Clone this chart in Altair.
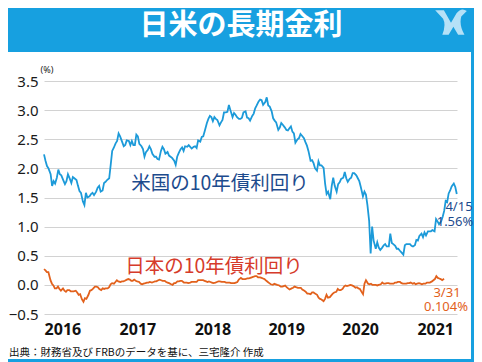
import altair as alt
import pandas as pd

# ---------------- data ----------------
# sample days within each month
SAMPLE_DAYS = [1, 8, 15, 22]

us_yield = [
    # 2016
    2.24, 2.13, 2.04, 2.00,  1.90, 1.70, 1.78, 1.74,  1.84, 1.98, 1.90, 1.88,
    1.79, 1.73, 1.78, 1.90,  1.82, 1.75, 1.85, 1.83,  1.80, 1.70, 1.61, 1.58,
    1.43, 1.37, 1.58, 1.50,  1.52, 1.56, 1.58, 1.54,  1.60, 1.67, 1.70, 1.60,
    1.62, 1.75, 1.77, 1.80,  1.83, 2.06, 2.30, 2.35,  2.43, 2.47, 2.60, 2.55,
    # 2017
    2.45, 2.38, 2.40, 2.48,  2.47, 2.40, 2.47, 2.40,  2.40, 2.58, 2.55, 2.42,
    2.38, 2.33, 2.20, 2.28,  2.32, 2.38, 2.33, 2.25,  2.20, 2.20, 2.16, 2.15,
    2.30, 2.37, 2.33, 2.25,  2.28, 2.22, 2.20, 2.18,  2.13, 2.06, 2.20, 2.26,
    2.33, 2.36, 2.30, 2.38,  2.37, 2.40, 2.37, 2.34,  2.37, 2.38, 2.35, 2.48,
    # 2018
    2.46, 2.54, 2.55, 2.64,  2.78, 2.85, 2.90, 2.88,  2.81, 2.88, 2.85, 2.83,
    2.74, 2.79, 2.83, 2.96,  2.96, 2.97, 3.09, 3.00,  2.88, 2.95, 2.92, 2.88,
    2.85, 2.85, 2.87, 2.96,  2.98, 2.87, 2.86, 2.82,  2.90, 2.94, 3.03, 3.08,
    3.15, 3.18, 3.17, 3.09,  3.14, 3.22, 3.08, 3.06,  2.98, 2.86, 2.82, 2.79,
    # 2019
    2.66, 2.70, 2.78, 2.75,  2.70, 2.66, 2.65, 2.69,  2.72, 2.63, 2.60, 2.44,
    2.50, 2.52, 2.59, 2.56,  2.52, 2.45, 2.39, 2.30,  2.13, 2.14, 2.09, 2.00,
    1.96, 2.12, 2.05, 2.05,  2.01, 1.74, 1.56, 1.60,  1.47, 1.70, 1.84, 1.70,
    1.60, 1.73, 1.76, 1.82,  1.84, 1.94, 1.83, 1.77,  1.82, 1.84, 1.92, 1.92,
    # 2020
    1.88, 1.83, 1.78, 1.68,  1.52, 1.60, 1.55, 1.37,  1.10, 0.54, 1.00, 0.76,
    0.62, 0.73, 0.64, 0.60,  0.64, 0.68, 0.70, 0.66,  0.66, 0.88, 0.72, 0.70,
    0.67, 0.62, 0.62, 0.59,  0.55, 0.52, 0.68, 0.70,  0.70, 0.70, 0.67, 0.66,
    0.68, 0.77, 0.76, 0.84,  0.88, 0.82, 0.90, 0.85,  0.92, 0.92, 0.92, 0.94,
    # 2021
    0.92, 1.13, 1.09, 1.04,  1.09, 1.17, 1.27, 1.44,  1.42, 1.57, 1.62, 1.69,
    1.74, 1.68, 1.56,
]

jp_yield = [
    # 2016
    0.27, 0.25, 0.22, 0.22,  0.08, 0.02, -0.01, -0.06,  -0.06, -0.03, -0.07, -0.10,
    -0.06, -0.10, -0.12, -0.09,  -0.09, -0.11, -0.11, -0.11,  -0.10, -0.13, -0.17, -0.16,
    -0.25, -0.29, -0.23, -0.24,  -0.17, -0.10, -0.09, -0.07,  -0.03, -0.03, -0.04, -0.07,
    -0.09, -0.06, -0.07, -0.06,  -0.06, -0.04, 0.01, 0.03,  0.02, 0.05, 0.08, 0.06,
    # 2017
    0.05, 0.06, 0.06, 0.07,  0.09, 0.10, 0.09, 0.07,  0.07, 0.09, 0.07, 0.06,
    0.05, 0.02, 0.01, 0.02,  0.03, 0.04, 0.04, 0.05,  0.04, 0.05, 0.06, 0.06,
    0.08, 0.09, 0.08, 0.07,  0.07, 0.05, 0.04, 0.03,  0.01, 0.00, 0.03, 0.03,
    0.06, 0.06, 0.07, 0.07,  0.04, 0.04, 0.04, 0.03,  0.04, 0.05, 0.05, 0.05,
    # 2018
    0.05, 0.08, 0.08, 0.08,  0.08, 0.07, 0.06, 0.05,  0.06, 0.05, 0.04, 0.03,
    0.04, 0.05, 0.06, 0.06,  0.05, 0.05, 0.05, 0.04,  0.04, 0.04, 0.03, 0.03,
    0.03, 0.04, 0.05, 0.09,  0.12, 0.10, 0.10, 0.10,  0.11, 0.11, 0.12, 0.13,
    0.14, 0.15, 0.15, 0.13,  0.13, 0.12, 0.11, 0.10,  0.07, 0.05, 0.03, 0.01,
    # 2019
    0.00, 0.02, 0.01, 0.00,  -0.01, -0.03, -0.03, -0.02,  -0.01, -0.04, -0.06, -0.08,
    -0.06, -0.05, -0.03, -0.04,  -0.05, -0.05, -0.05, -0.08,  -0.10, -0.12, -0.15, -0.15,
    -0.16, -0.13, -0.13, -0.15,  -0.17, -0.22, -0.24, -0.25,  -0.28, -0.24, -0.17, -0.22,
    -0.21, -0.18, -0.15, -0.13,  -0.12, -0.07, -0.09, -0.09,  -0.07, -0.03, -0.01, -0.02,
    # 2020
    -0.01, 0.00, -0.01, -0.02,  -0.05, -0.04, -0.06, -0.07,  -0.12, -0.16, 0.02, 0.08,
    0.02, 0.01, 0.02, 0.00,  0.00, 0.00, -0.01, 0.00,  0.01, 0.04, 0.02, 0.02,
    0.03, 0.03, 0.02, 0.02,  0.02, 0.04, 0.04, 0.05,  0.05, 0.03, 0.02, 0.02,
    0.02, 0.03, 0.03, 0.04,  0.02, 0.03, 0.01, 0.02,  0.03, 0.02, 0.01, 0.02,
    # 2021
    0.02, 0.04, 0.04, 0.04,  0.06, 0.08, 0.10, 0.15,  0.12, 0.11, 0.10, 0.08,
]
jp_last_date = "2021-03-31"
jp_last_value = 0.104

y_ticks = [-0.5, 0.0, 0.5, 1.0, 1.5, 2.0, 2.5, 3.0, 3.5]
year_labels = ["2016", "2017", "2018", "2019", "2020", "2021"]
year_label_dates = ["2016-03-27", "2017-03-13", "2018-02-27", "2019-02-07", "2020-01-19", "2021-01-04"]

TITLE = "日米の長期金利"
US_LABEL = "米国の10年債利回り"
JP_LABEL = "日本の10年債利回り"
US_NOTE = ["4/15", "1.56%"]
JP_NOTE = ["3/31", "0.104%"]
SOURCE = "出典：財務省及び FRBのデータを基に、三宅隆介 作成"


def make_dates(n):
    out = []
    y, m = 2016, 1
    while len(out) < n:
        for d in SAMPLE_DAYS:
            if len(out) < n:
                out.append(f"{y}-{m:02d}-{d:02d}")
        m += 1
        if m > 12:
            m, y = 1, y + 1
    return out


us_df = pd.DataFrame({"date": make_dates(len(us_yield)), "value": us_yield})
jp_df = pd.DataFrame({"date": make_dates(len(jp_yield)) + [jp_last_date],
                      "value": jp_yield + [jp_last_value]})

# ---------------- style ----------------
HEADER = "#17a0e0"
US_COLOR = "#1c9ad9"
JP_COLOR = "#e2611c"
US_TEXT = "#1d4b8d"
JP_TEXT = "#d63b2b"
CJK = "Noto Sans CJK JP"
LAT = "Noto Sans"


def dt(s):
    y, m, d = (int(p) for p in s.split("-"))
    return alt.DateTime(year=y, month=m, date=d)


y_axis = alt.Axis(values=y_ticks, format=".1f", labelFont=LAT, labelFontSize=15,
                  labelColor="#1a1a1a", ticks=False, domain=False, labelPadding=6,
                  grid=True, gridColor="#d2d2d2", gridWidth=1)
y_scale = alt.Scale(domain=[-0.5, 3.5], nice=False, zero=False)

us_line = alt.Chart(us_df).mark_line(color=US_COLOR, strokeWidth=1.8).encode(
    x=alt.X("date:T", title=None,
            scale=alt.Scale(domain=[dt("2016-01-01"), dt("2021-04-16")]),
            axis=alt.Axis(values=[dt(s) for s in year_label_dates], format="%Y",
                          labelFont=LAT, labelFontSize=16, labelFontWeight="bold",
                          labelColor="#111111", ticks=False, domain=False, grid=False,
                          labelPadding=7)),
    y=alt.Y("value:Q", title=None, scale=y_scale, axis=y_axis),
)

jp_line = alt.Chart(jp_df).mark_line(color=JP_COLOR, strokeWidth=1.8).encode(
    x=alt.X("date:T", title=None,
            scale=alt.Scale(domain=[dt("2016-01-01"), dt("2021-06-01")]), axis=None),
    y=alt.Y("value:Q", title=None, scale=y_scale, axis=y_axis),
)


def txt(s, x, y, size, color, font=CJK, weight="normal", align="center", baseline="middle"):
    return alt.Chart(pd.DataFrame({"t": [s]})).mark_text(
        font=font, fontSize=size, color=color, fontWeight=weight, align=align, baseline=baseline
    ).encode(text="t:N", x=alt.value(x), y=alt.value(y))


def box(x, x2, y, y2, color):
    return alt.Chart(pd.DataFrame({"a": [0]})).mark_rect(color=color).encode(
        x=alt.value(x), x2=alt.value(x2), y=alt.value(y), y2=alt.value(y2))


header = box(-50, 450, -90, -29, HEADER)
frame_r = box(427, 450, -90, 300, HEADER)
frame_b = box(-50, 450, 278, 300, HEADER)

logo = alt.Chart(pd.DataFrame({"a": [0]})).mark_point(
    shape="M -1 -0.75 L -0.45 -0.75 L 0 0.05 L 0.35 -0.55 Q 0.65 -0.95 1 -0.7 L 0.65 -0.35 "
          "Q 0.5 0.2 0.85 0.8 L 0.45 0.8 L 0.15 0.3 L -0.15 0.8 L -0.55 0.8 Q -0.3 0.2 -0.5 -0.2 Z",
    filled=True, color="#b5e1f7", opacity=1, size=1000, strokeWidth=0,
).encode(x=alt.value(407), y=alt.value(-59))

layers = [
    header, frame_r, frame_b, logo,
    txt(TITLE, 197, -55, 29, "white", weight="bold"),
    txt("(%)", 3, -11, 9, "#222222", font=LAT),
    us_line, jp_line,
    txt(US_LABEL, 176, 103, 19.5, US_TEXT),
    txt(JP_LABEL, 170, 186, 19.5, JP_TEXT),
    txt(US_NOTE[0], 415, 126, 13, US_TEXT, font=LAT),
    txt(US_NOTE[1], 411, 141, 13, US_TEXT, font=LAT),
    txt(JP_NOTE[0], 403, 212, 13, JP_COLOR, font=LAT),
    txt(JP_NOTE[1], 402, 226, 13, JP_COLOR, font=LAT),
    txt(SOURCE, -35, 272, 10.5, "#111111", align="left"),
]

chart = alt.layer(*layers).resolve_scale(x="independent").properties(
    width=413, height=233,
    autosize=alt.AutoSizeParams(type="none"),
    padding={"left": 36, "top": 73, "right": 17, "bottom": 48},
    background="white",
).configure_view(stroke=None)

chart.save("out.html", embed_options={"renderer": "svg", "actions": False})
